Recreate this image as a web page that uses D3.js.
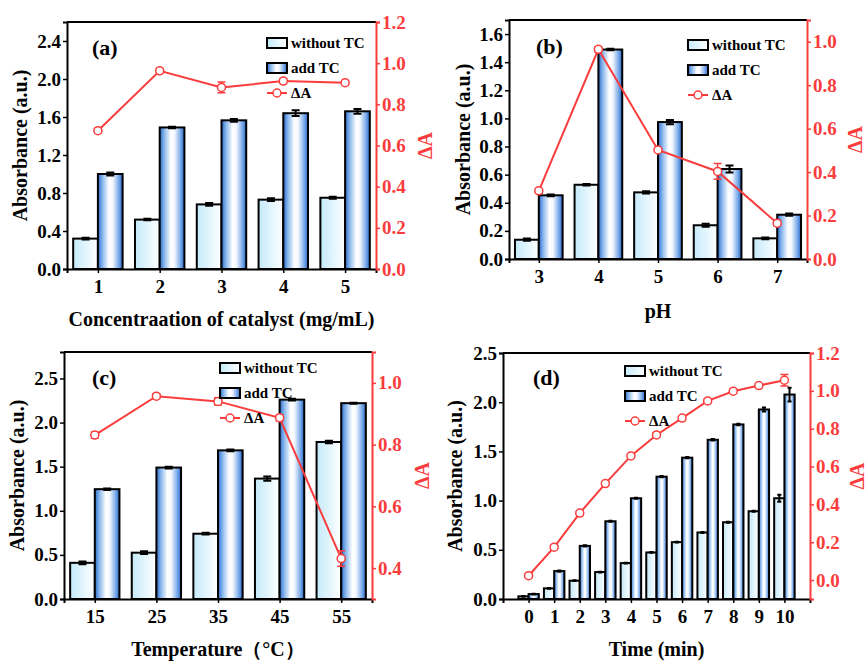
<!DOCTYPE html>
<html>
<head>
<meta charset="utf-8">
<script src="https://cdn.jsdelivr.net/npm/d3@7"></script>
<style>
  body { margin: 0; background: #fff; }
  svg text { font-family: "Liberation Serif", "Times New Roman", serif; font-weight: bold; }
</style>
</head>
<body>
<svg id="chart" width="867" height="662"></svg>
<script>
// (a) catalyst concentration
const catA = [1, 2, 3, 4, 5];
const withoutA = [0.32, 0.52, 0.68, 0.73, 0.75];
const addA = [1.00, 1.49, 1.565, 1.64, 1.66];
const deltaA = [0.672, 0.963, 0.882, 0.913, 0.905];
const withoutErrA = [0.01, 0.008, 0.015, 0.015, 0.01];
const addErrA = [0.015, 0.008, 0.015, 0.03, 0.025];
const deltaErrA = [0.01, 0.012, 0.026, 0.012, 0.01];

// (b) pH
const catB = [3, 4, 5, 6, 7];
const withoutB = [0.137, 0.528, 0.474, 0.24, 0.147];
const addB = [0.453, 1.49, 0.974, 0.64, 0.315];
const deltaB = [0.314, 0.965, 0.502, 0.403, 0.165];
const withoutErrB = [0.008, 0.006, 0.008, 0.01, 0.006];
const addErrB = [0.006, 0.006, 0.015, 0.025, 0.008];
const deltaErrB = [0.01, 0.012, 0.01, 0.036, 0.012];

// (c) temperature
const catC = [15, 25, 35, 45, 55];
const withoutC = [0.41, 0.525, 0.74, 1.365, 1.78];
const addC = [1.245, 1.49, 1.685, 2.26, 2.22];
const deltaC = [0.831, 0.957, 0.94, 0.887, 0.431];
const withoutErrC = [0.015, 0.015, 0.01, 0.025, 0.015];
const addErrC = [0.008, 0.01, 0.01, 0.01, 0.006];
const deltaErrC = [0.01, 0.008, 0.012, 0.01, 0.025];

// (d) time
const catD = [0, 1, 2, 3, 4, 5, 6, 7, 8, 9, 10];
const withoutD = [0.027, 0.108, 0.186, 0.274, 0.365, 0.473, 0.578, 0.676, 0.78, 0.892, 1.024];
const addD = [0.05, 0.284, 0.54, 0.79, 1.024, 1.243, 1.436, 1.618, 1.774, 1.926, 2.078];
const deltaD = [0.023, 0.174, 0.354, 0.51, 0.656, 0.767, 0.856, 0.947, 0.998, 1.028, 1.056];
const withoutErrD = [0.004, 0.004, 0.004, 0.004, 0.004, 0.004, 0.004, 0.004, 0.004, 0.006, 0.035];
const addErrD = [0.004, 0.006, 0.006, 0.006, 0.006, 0.006, 0.006, 0.008, 0.008, 0.02, 0.07];
const deltaErrD = [0.01, 0.01, 0.01, 0.01, 0.01, 0.01, 0.01, 0.01, 0.01, 0.01, 0.03];

const legendLabels = ["without TC", "add TC", "\u0394A"];
const red = "#fa3c3c";

const svg = d3.select("#chart");
const defs = svg.append("defs");

let gWithout = defs.append("linearGradient").attr("id", "gWithout");
gWithout.append("stop").attr("offset", "0%").attr("stop-color", "#c4eafa");
gWithout.append("stop").attr("offset", "100%").attr("stop-color", "#ffffff");

let gAdd = defs.append("linearGradient").attr("id", "gAdd");
[["0%", "#2a6acc"], ["18%", "#86b5ec"], ["45%", "#ffffff"], ["60%", "#f4f8fe"], ["85%", "#77a8e8"], ["100%", "#2766c9"]]
    .forEach(([o, c]) => gAdd.append("stop").attr("offset", o).attr("stop-color", c));

function drawPanel(p) {
    let g = svg.append("g");

    let x = d3.scaleLinear().domain(p.xDomain).range([p.left, p.right]);
    let yL = d3.scaleLinear().domain(p.yLeft).range([p.bottom, p.top]);
    let yR = d3.scaleLinear().domain(p.yRight).range([p.bottom, p.top]);
    let bw = 0.4 * (p.cats[1] - p.cats[0]);

    // bars
    let bars = g.append("g");
    p.cats.forEach((c, i) => {
        [[p.without, p.withoutErr, c - bw, "url(#gWithout)"], [p.add, p.addErr, c, "url(#gAdd)"]].forEach(([vals, errs, x0, fill]) => {
            let v = vals[i];
            bars.append("rect")
                .attr("x", x(x0))
                .attr("y", yL(v))
                .attr("width", x(x0 + bw) - x(x0))
                .attr("height", yL(0) - yL(v))
                .attr("fill", fill)
                .attr("stroke", "#000")
                .attr("stroke-width", 2);
            let cx = x(x0 + bw / 2);
            let cap = Math.min(4, (x(x0 + bw) - x(x0)) * 0.2);
            let e = errs[i];
            bars.append("path")
                .attr("d", `M${cx},${yL(v - e)}V${yL(v + e)}M${cx - cap},${yL(v + e)}H${cx + cap}M${cx - cap},${yL(v - e)}H${cx + cap}`)
                .attr("stroke", "#000").attr("stroke-width", 2).attr("fill", "none");
        });
    });

    // frame / axes
    g.append("line").attr("x1", p.left).attr("x2", p.right).attr("y1", p.top).attr("y2", p.top)
        .attr("stroke", "#000").attr("stroke-width", 2);

    let axL = g.append("g").attr("transform", `translate(${p.left},0)`)
        .call(d3.axisLeft(yL).tickValues(p.yLeftTicks).tickFormat(d3.format(p.leftFmt)).tickSizeOuter(0).tickSize(4).tickPadding(2));
    let axB = g.append("g").attr("transform", `translate(0,${p.bottom})`)
        .call(d3.axisBottom(x).tickValues(p.cats).tickFormat(d3.format("d")).tickSizeOuter(0).tickSize(4).tickPadding(7));
    let axR = g.append("g").attr("transform", `translate(${p.right},0)`)
        .call(d3.axisRight(yR).tickValues(p.yRightTicks).tickFormat(d3.format(".1f")).tickSizeOuter(0).tickSize(4).tickPadding(2));

    [axL, axB, axR].forEach((a) => {
        a.select(".domain").attr("stroke-width", 2);
        a.selectAll(".tick line").attr("stroke-width", 1.5);
        a.selectAll("text").attr("font-size", 19).attr("font-family", null);
    });
    axR.select(".domain").attr("stroke", red);
    axR.selectAll(".tick line").attr("stroke", red);
    axR.selectAll("text").attr("fill", red);

    // ΔA line
    let line = d3.line().x((d, i) => x(p.cats[i])).y((d) => yR(d));
    g.append("path").attr("d", line(p.delta)).attr("fill", "none").attr("stroke", red).attr("stroke-width", 2);
    p.delta.forEach((d, i) => {
        let cx = x(p.cats[i]);
        let e = p.deltaErr[i];
        g.append("path")
            .attr("d", `M${cx},${yR(d - e)}V${yR(d + e)}M${cx - 4},${yR(d + e)}H${cx + 4}M${cx - 4},${yR(d - e)}H${cx + 4}`)
            .attr("stroke", red).attr("stroke-width", 1.5).attr("fill", "none");
        g.append("circle").attr("cx", cx).attr("cy", yR(d)).attr("r", 4)
            .attr("fill", "#fff").attr("stroke", red).attr("stroke-width", 1.5);
    });

    // legend
    let lg = g.append("g").attr("transform", `translate(${p.legend[0]},${p.legend[1]})`);
    ["url(#gWithout)", "url(#gAdd)"].forEach((f, i) => {
        lg.append("rect").attr("x", 0).attr("y", i * 25 - 5).attr("width", 20).attr("height", 10)
            .attr("fill", f).attr("stroke", "#000").attr("stroke-width", 2);
    });
    lg.append("line").attr("x1", 0).attr("x2", 20).attr("y1", 50).attr("y2", 50).attr("stroke", red).attr("stroke-width", 2);
    lg.append("circle").attr("cx", 10).attr("cy", 50).attr("r", 4).attr("fill", "#fff").attr("stroke", red).attr("stroke-width", 1.5);
    legendLabels.forEach((t, i) => {
        lg.append("text").attr("x", 24).attr("y", i * 25 + 5).attr("font-size", 15).text(t);
    });

    // panel label
    g.append("text").attr("x", p.label[0]).attr("y", p.label[1]).attr("font-size", 22).text(p.label[2]);

    // titles
    g.append("text").attr("transform", `translate(${p.leftTitleX},${(p.top + p.bottom) / 2}) rotate(-90)`)
        .attr("text-anchor", "middle").attr("dy", "0.35em").attr("font-size", 20).text("Absorbance (a.u.)");
    g.append("text").attr("transform", `translate(${p.rightTitleX},${(p.top + p.bottom) / 2}) rotate(-90)`)
        .attr("text-anchor", "middle").attr("dy", "0.35em").attr("font-size", 20).attr("fill", red).text("\u0394A");
    g.append("text").attr("x", (p.left + p.right) / 2).attr("y", p.xTitleY)
        .attr("text-anchor", "middle").attr("font-size", 20).text(p.xTitle);
}

drawPanel({
    cats: catA, without: withoutA, add: addA, delta: deltaA,
    withoutErr: withoutErrA, addErr: addErrA, deltaErr: deltaErrA,
    left: 67, right: 376, top: 22, bottom: 269,
    xDomain: [0.5, 5.5], yLeft: [0, 2.6], yLeftTicks: [0, 0.4, 0.8, 1.2, 1.6, 2.0, 2.4], leftFmt: ".1f",
    yRight: [0, 1.2], yRightTicks: [0, 0.2, 0.4, 0.6, 0.8, 1.0, 1.2],
    legend: [267, 43], label: [92, 55, "(a)"],
    leftTitleX: 20, rightTitleX: 425, xTitleY: 326, xTitle: "Concentraation of catalyst (mg/mL)"
});

drawPanel({
    cats: catB, without: withoutB, add: addB, delta: deltaB,
    withoutErr: withoutErrB, addErr: addErrB, deltaErr: deltaErrB,
    left: 509, right: 807, top: 20, bottom: 259,
    xDomain: [2.5, 7.5], yLeft: [0, 1.7], yLeftTicks: [0, 0.2, 0.4, 0.6, 0.8, 1.0, 1.2, 1.4, 1.6], leftFmt: ".1f",
    yRight: [0, 1.1], yRightTicks: [0, 0.2, 0.4, 0.6, 0.8, 1.0],
    legend: [688, 45], label: [536, 54, "(b)"],
    leftTitleX: 463, rightTitleX: 855, xTitleY: 318, xTitle: "pH"
});

drawPanel({
    cats: catC, without: withoutC, add: addC, delta: deltaC,
    withoutErr: withoutErrC, addErr: addErrC, deltaErr: deltaErrC,
    left: 64, right: 372, top: 352, bottom: 599,
    xDomain: [10, 60], yLeft: [0, 2.8], yLeftTicks: [0, 0.5, 1.0, 1.5, 2.0, 2.5], leftFmt: ".1f",
    yRight: [0.3, 1.1], yRightTicks: [0.4, 0.6, 0.8, 1.0],
    legend: [220, 368], label: [92, 385, "(c)"],
    leftTitleX: 17, rightTitleX: 422, xTitleY: 656, xTitle: "Temperature\uff08\u00b0C\uff09"
});

drawPanel({
    cats: catD, without: withoutD, add: addD, delta: deltaD,
    withoutErr: withoutErrD, addErr: addErrD, deltaErr: deltaErrD,
    left: 503, right: 810, top: 353, bottom: 599,
    xDomain: [-1, 11], yLeft: [0, 2.5], yLeftTicks: [0, 0.5, 1.0, 1.5, 2.0, 2.5], leftFmt: ".1f",
    yRight: [-0.1, 1.2], yRightTicks: [0, 0.2, 0.4, 0.6, 0.8, 1.0, 1.2],
    legend: [625, 371], label: [533, 385, "(d)"],
    leftTitleX: 455, rightTitleX: 857, xTitleY: 656, xTitle: "Time (min)"
});
</script>
</body>
</html>
